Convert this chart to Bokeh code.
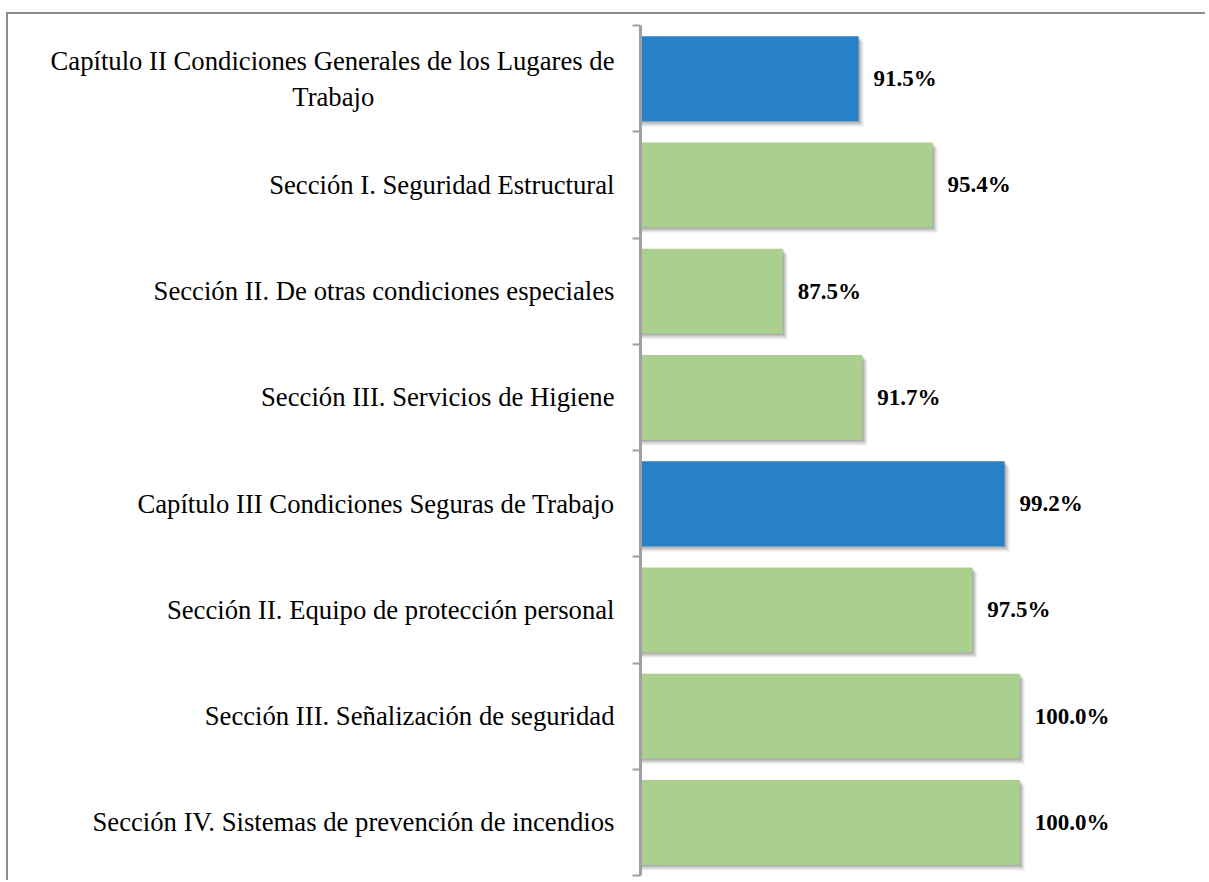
from bokeh.plotting import figure
from bokeh.models import Range1d, FixedTicker, ColumnDataSource
from bokeh.core.properties import value
from bokeh.transform import dodge
from bokeh.embed import file_html
from bokeh.resources import INLINE

categories = [
    "Capítulo II Condiciones Generales de los Lugares de\nTrabajo" + "\u00a0" * 36,
    "Sección I. Seguridad Estructural",
    "Sección II. De otras condiciones especiales",
    "Sección III. Servicios de Higiene",
    "Capítulo III Condiciones Seguras de Trabajo",
    "Sección II. Equipo de protección personal",
    "Sección III. Señalización de seguridad",
    "Sección IV. Sistemas de prevención de incendios",
]
values = [91.5, 95.4, 87.5, 91.7, 99.2, 97.5, 100.0, 100.0]
kinds = ["capitulo", "seccion", "seccion", "seccion", "capitulo", "seccion", "seccion", "seccion"]
kind_colors = {"capitulo": "#2781C7", "seccion": "#AACF8F"}

n = len(categories)
ypos = [n - i - 0.5 for i in range(n)]
src = ColumnDataSource(dict(
    y=ypos,
    v=values,
    color=[kind_colors[k] for k in kinds],
    label=[f"{v:.1f}%" for v in values],
))

x_min = 80
p = figure(width=1199, height=868, output_backend="svg", toolbar_location=None,
           x_range=Range1d(x_min, 107), y_range=Range1d(0, n),
           x_axis_location=None, min_border_left=632, min_border_right=55,
           min_border_top=11, min_border_bottom=7)
p.margin = (12, 0, 0, 6)
p.outline_line_color = None
p.grid.visible = False
p.background_fill_color = "white"
p.border_fill_color = "white"
p.styles = {"border-top": "2px solid #8c8c8c", "border-left": "2px solid #8c8c8c"}

# soft shadow layers
for k, a in [(5, 0.06), (4, 0.09), (3, 0.12), (2, 0.15), (1, 0.18)]:
    p.hbar(y=dodge("y", -0.011 * k, range=p.y_range), left=x_min,
           right=dodge("v", 0.055 * k, range=p.x_range), height=0.8, source=src,
           fill_color="#505050", fill_alpha=a, line_color=None)

p.hbar(y="y", left=x_min, right="v", height=0.8, source=src,
       fill_color="color", line_color=None)

p.text(x="v", y="y", text="label", source=src, x_offset=15,
       text_font=value("Liberation Serif"), text_font_style="bold",
       text_font_size="23px", text_baseline="middle", text_align="left",
       text_color="black")

ax = p.yaxis[0]
ax.ticker = FixedTicker(ticks=ypos, minor_ticks=list(range(n + 1)))
ax.major_label_overrides = {y: c for y, c in zip(ypos, categories)}
ax.major_tick_out = 0
ax.major_tick_in = 0
ax.minor_tick_out = 8
ax.minor_tick_in = 0
ax.minor_tick_line_color = "#a0a0a0"
ax.minor_tick_line_width = 2
ax.axis_line_color = "#a0a0a0"
ax.axis_line_width = 3
ax.major_label_standoff = 18
ax.major_label_text_font = "Liberation Serif"
ax.major_label_text_font_size = "26.7px"
ax.major_label_text_color = "black"

open("out.html", "w").write(file_html(p, INLINE))
